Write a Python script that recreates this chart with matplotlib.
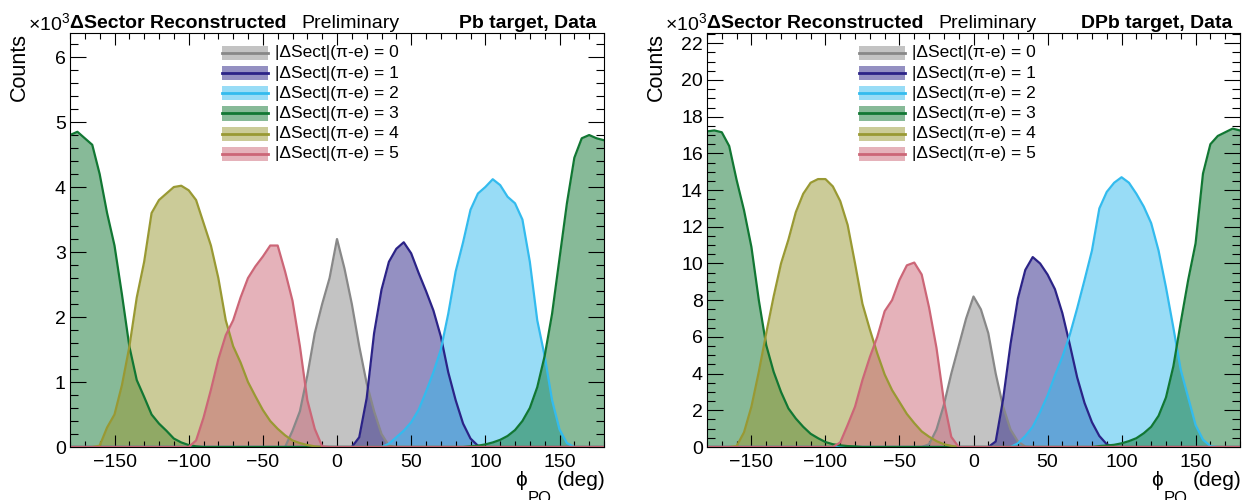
import numpy as np
import matplotlib.pyplot as plt
from matplotlib.patches import Rectangle
from matplotlib.ticker import MultipleLocator

plt.rcParams['font.family'] = ['Liberation Sans', 'DejaVu Sans']
plt.rcParams['mathtext.fontset'] = 'custom'
plt.rcParams['mathtext.rm'] = 'Liberation Sans'
plt.rcParams['mathtext.it'] = 'Liberation Sans:italic'
plt.rcParams['mathtext.bf'] = 'Liberation Sans:bold'

# phi_PQ sample points (deg), counts in units of 10^3
phi = np.arange(-180, 181, 5)

labels = ['|ΔSect|(π-e) = %d' % k for k in range(6)]
colors = ['#888888', '#2b2387', '#33bbee', '#117733', '#999933', '#cc6677']

# ---- Pb target ----
pb_sect0_start = -35
pb_sect0 = [0, 0.25, 0.55, 1.1, 1.75, 2.2, 2.6, 3.2, 2.75, 2.2, 1.55, 0.98, 0.55, 0.2, 0.02, 0]
pb_sect1_start = 10
pb_sect1 = [0, 0.15, 0.75, 1.75, 2.42, 2.85, 3.05, 3.15, 2.98, 2.68, 2.4, 2.1, 1.7, 1.15, 0.72, 0.36, 0.13, 0.02, 0]
pb_sect2_start = 30
pb_sect2 = [0, 0.05, 0.15, 0.25, 0.38, 0.57, 0.85, 1.15, 1.5, 2.05, 2.7, 3.15, 3.65, 3.9, 4.0, 4.12,
            4.03, 3.85, 3.75, 3.5, 2.85, 1.95, 1.4, 0.72, 0.27, 0.06, 0]
pb_sect3_left_start = -180
pb_sect3_left = [4.8, 4.85, 4.75, 4.65, 4.2, 3.6, 3.1, 2.35, 1.55, 1.03, 0.77, 0.5, 0.36, 0.25, 0.13,
                 0.07, 0.03, 0.01]
pb_sect3_right_start = 90
pb_sect3_right = [0.01, 0.02, 0.04, 0.07, 0.11, 0.17, 0.26, 0.4, 0.6, 0.92, 1.4, 2.05, 2.9, 3.75, 4.45,
                  4.75, 4.8, 4.75, 4.72]
pb_sect4_start = -165
pb_sect4 = [0, 0.02, 0.3, 0.5, 0.95, 1.54, 2.3, 2.85, 3.6, 3.8, 3.9, 4.0, 4.02, 3.95, 3.8, 3.45, 3.1,
            2.6, 1.95, 1.55, 1.3, 1.0, 0.78, 0.57, 0.4, 0.28, 0.18, 0.1, 0.06, 0.03, 0.01, 0]
pb_sect5_start = -100
pb_sect5 = [0, 0.1, 0.45, 0.88, 1.35, 1.72, 1.95, 2.3, 2.6, 2.78, 2.93, 3.1, 3.1, 2.7, 2.25, 1.55,
            0.72, 0.28, 0.01, 0]

# ---- DPb target ----
dpb_sect0_start = -35
dpb_sect0 = [0, 0.15, 0.95, 2.3, 4.0, 5.5, 7.0, 8.2, 7.5, 6.2, 4.0, 2.2, 0.95, 0.3, 0.02, 0]
dpb_sect1_start = 10
dpb_sect1 = [0, 0.3, 2.6, 5.6, 8.1, 9.65, 10.35, 10.0, 9.4, 8.6, 7.3, 5.6, 3.8, 2.4, 1.35, 0.6, 0.15, 0]
dpb_sect2_start = 25
dpb_sect2 = [0, 0.2, 0.6, 1.1, 1.9, 2.8, 3.9, 4.9, 6.1, 7.55, 9.1, 10.7, 13.0, 13.9, 14.4, 14.7, 14.4,
             13.8, 13.1, 12.2, 10.7, 8.7, 6.5, 4.2, 2.7, 1.2, 0.4, 0.05, 0]
dpb_sect3_left_start = -180
dpb_sect3_left = [17.2, 17.25, 17.15, 16.4, 14.55, 12.9, 10.9, 8.0, 5.55, 4.1, 3.0, 2.1, 1.55, 1.1,
                  0.72, 0.48, 0.27, 0.15, 0.09, 0.05, 0.03]
dpb_sect3_right_start = 85
dpb_sect3_right = [0.05, 0.08, 0.12, 0.2, 0.32, 0.48, 0.75, 1.1, 1.7, 2.7, 4.4, 6.8, 9.1, 11.1, 14.9,
                   16.5, 16.95, 17.15, 17.35, 17.25]
dpb_sect4_start = -165
dpb_sect4 = [0, 0.05, 0.8, 2.2, 4.1, 6.2, 8.2, 10.0, 11.3, 12.8, 13.8, 14.4, 14.6, 14.6, 14.2, 13.4,
             12.1, 10.0, 7.8, 6.4, 5.1, 3.95, 3.1, 2.45, 1.8, 1.3, 0.85, 0.56, 0.32, 0.15, 0.06, 0]
dpb_sect5_start = -95
dpb_sect5 = [0, 0.25, 1.2, 2.2, 3.65, 4.9, 6.0, 7.4, 8.0, 9.1, 9.9, 10.05, 9.4, 7.6, 5.4, 2.5, 0.55, 0]


def on_grid(start, vals):
    y = np.zeros(len(phi))
    i = int((start - phi[0]) // 5)
    y[i:i + len(vals)] = vals
    return y


pb = [on_grid(pb_sect0_start, pb_sect0),
      on_grid(pb_sect1_start, pb_sect1),
      on_grid(pb_sect2_start, pb_sect2),
      on_grid(pb_sect3_left_start, pb_sect3_left) + on_grid(pb_sect3_right_start, pb_sect3_right),
      on_grid(pb_sect4_start, pb_sect4),
      on_grid(pb_sect5_start, pb_sect5)]
dpb = [on_grid(dpb_sect0_start, dpb_sect0),
       on_grid(dpb_sect1_start, dpb_sect1),
       on_grid(dpb_sect2_start, dpb_sect2),
       on_grid(dpb_sect3_left_start, dpb_sect3_left) + on_grid(dpb_sect3_right_start, dpb_sect3_right),
       on_grid(dpb_sect4_start, dpb_sect4),
       on_grid(dpb_sect5_start, dpb_sect5)]

W, H = 1243, 500
fig = plt.figure(figsize=(W / 100, H / 100), dpi=100)
renderer = fig.canvas.get_renderer()


def draw_panel(left_px, right_px, series, ymax, major, minor, target):
    ax = fig.add_axes([left_px / W, (H - 447) / H, (right_px - left_px) / W, 414 / H])
    for vals, col in zip(series, colors):
        ax.fill_between(phi, vals, color=col, alpha=0.5, lw=0)
        ax.plot(phi, vals, color=col, lw=1.6)
    ax.set_xlim(-180, 180)
    ax.set_ylim(0, ymax)
    ax.xaxis.set_major_locator(MultipleLocator(50))
    ax.xaxis.set_minor_locator(MultipleLocator(10))
    ax.yaxis.set_major_locator(MultipleLocator(major))
    ax.yaxis.set_minor_locator(MultipleLocator(minor))
    ax.tick_params(which='both', direction='in', top=True, right=True, labelsize=14, width=0.8)
    ax.tick_params(axis='x', which='major', length=8.6, pad=5)
    ax.tick_params(axis='x', which='minor', length=4.3)
    ax.tick_params(axis='y', which='major', length=11.5, pad=3)
    ax.tick_params(axis='y', which='minor', length=5.8)
    for s in ax.spines.values():
        s.set_linewidth(0.8)

    # legend drawn by hand, ROOT style
    for k, (lab, col) in enumerate(zip(labels, colors)):
        yc = 0.952 - k * 0.0488
        ax.add_patch(Rectangle((0.285, yc - 0.017), 0.086, 0.034, transform=ax.transAxes,
                               facecolor=col, alpha=0.5, lw=0))
        ax.plot([0.285, 0.371], [yc, yc], color=col, lw=2, transform=ax.transAxes)
        ax.text(0.384, yc, lab, transform=ax.transAxes, fontsize=12.5, va='center', ha='left')

    # header
    ty = 1 - 28 / H
    fig.text(left_px / W, 1 - 30 / H, r'$\times10^{3}$', fontsize=14, ha='right', va='baseline')
    fig.text(left_px / W, ty, 'ΔSector Reconstructed', fontsize=14, fontweight='bold',
             ha='left', va='baseline')
    fig.text((left_px + 231) / W, ty, 'Preliminary', fontsize=14, ha='left', va='baseline')
    fig.text((right_px - 8) / W, ty, target, fontsize=14, fontweight='bold',
             ha='right', va='baseline')
    fig.text((left_px - 51) / W, 1 - 33 / H, 'Counts', fontsize=15.5, rotation=90,
             ha='center', va='top')

    # x title: phi with a dropped subscript, as ROOT draws it
    t3 = fig.text((right_px + 1) / W, 1 - 486 / H, '(deg)', fontsize=15, ha='right', va='baseline')
    x3 = t3.get_window_extent(renderer).x0
    t2 = fig.text((x3 - 5) / W, 1 - 503 / H, 'PQ', fontsize=12, ha='right', va='baseline')
    x2 = t2.get_window_extent(renderer).x0
    fig.text(x2 / W, 1 - 486 / H, 'ϕ', fontsize=15, ha='right', va='baseline')
    return ax


draw_panel(70, 604, pb, 6.37, 1, 0.2, 'Pb target, Data')
draw_panel(707, 1240, dpb, 22.56, 2, 0.5, 'DPb target, Data')

fig.savefig('out.png', dpi=100)
